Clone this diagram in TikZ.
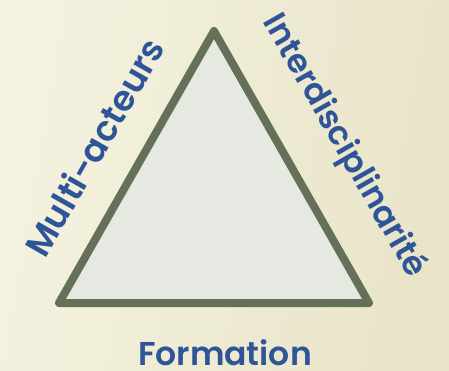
\documentclass[tikz,border=0pt]{standalone}
\usepackage{fontspec}
\setmainfont{Poppins}[BoldFont={Poppins SemiBold}]
\definecolor{bgL}{RGB}{244,242,224}
\definecolor{bgR}{RGB}{233,228,200}
\definecolor{edge}{RGB}{100,112,87}
\definecolor{trifill}{RGB}{230,232,226}
\definecolor{txt}{RGB}{46,85,151}
\tikzset{
  tri/.style={draw=edge, fill=trifill, line width=8pt, line join=round},
  lbl/.style={text=txt, font=\bfseries\fontsize{33}{38}\selectfont, inner sep=0pt}
}
\begin{document}
\begin{tikzpicture}[x=1pt,y=-1pt]
\useasboundingbox (0,0) rectangle (449,371);
\shade[left color=bgL, right color=bgR, shading angle=80] (0,0) rectangle (449,371);
\coordinate (A) at (214,31);
\coordinate (B) at (59,303);
\coordinate (C) at (369,303);
\draw[tri] (A) -- (B) -- (C) -- cycle;
\node[lbl, rotate=60.3, font=\bfseries\fontsize{35}{40}\selectfont] (m) at (94,147) {Multi-acteurs};
\node[lbl, rotate=-60.3] (i) at (344,146) {Interdisciplinarité};
\node[lbl, anchor=base] (f) at (225,365) {Formation};
\end{tikzpicture}
\end{document}
